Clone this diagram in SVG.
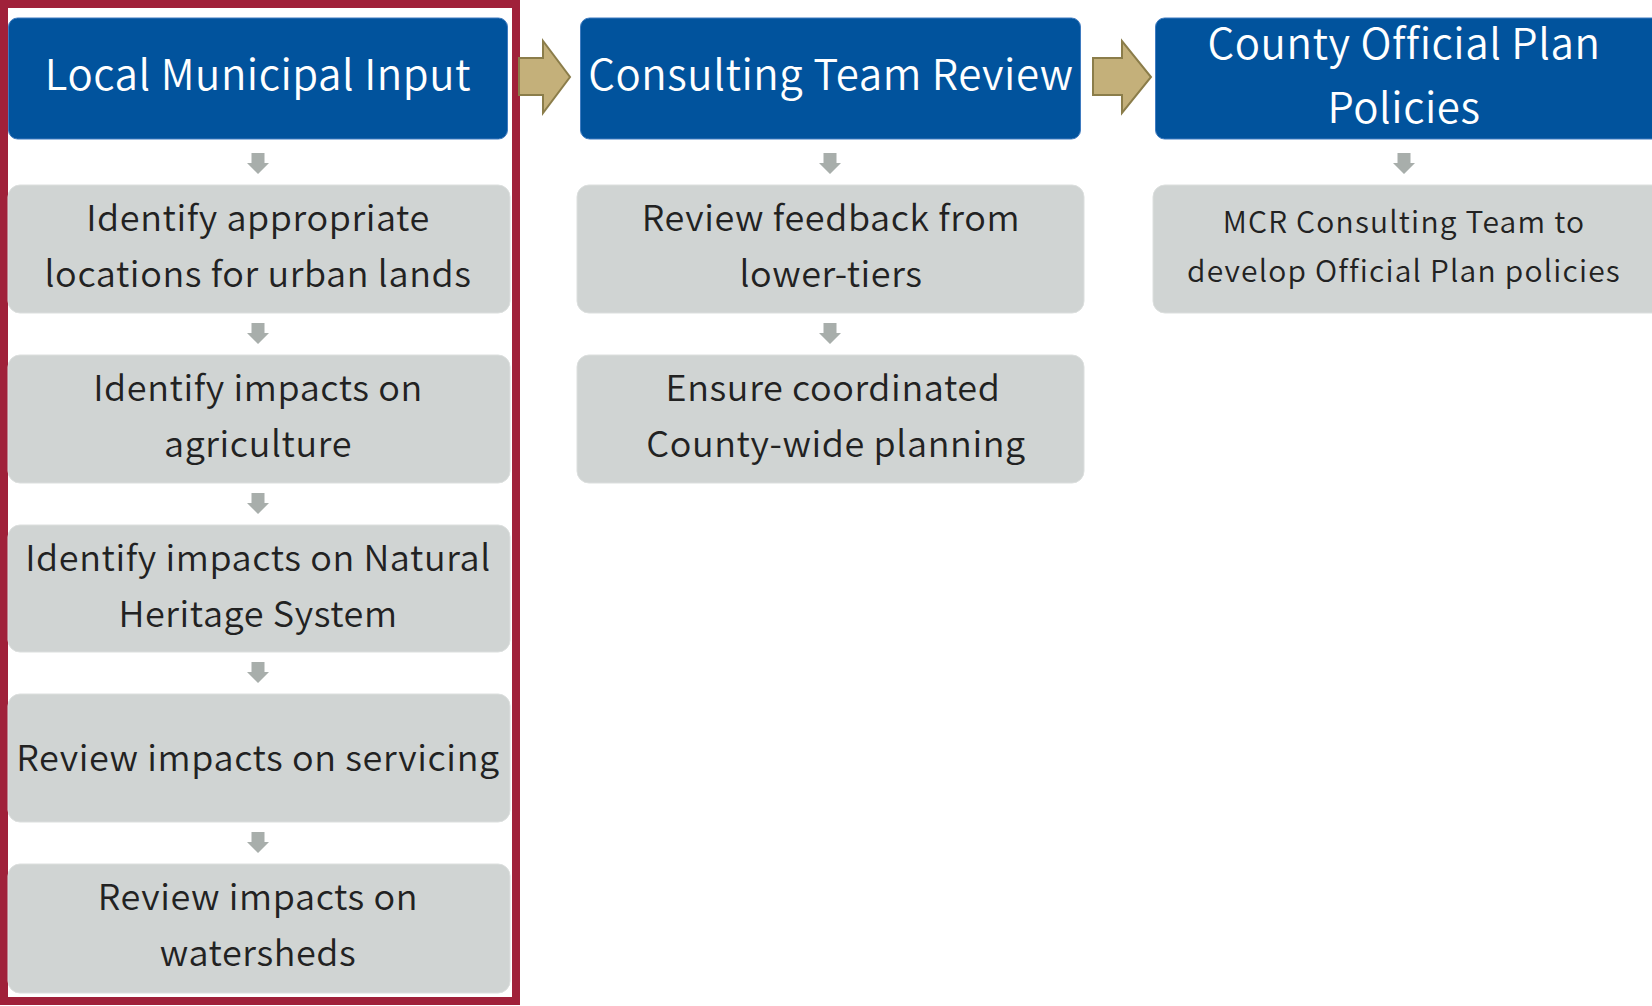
<svg xmlns="http://www.w3.org/2000/svg" width="1652" height="1006" viewBox="0 0 1652 1006">
<style>
.hdr{fill:#01539D;stroke:#3F7BC0;stroke-width:1}
.box{fill:#D0D4D3;stroke:#DCDFDE;stroke-width:1}
.ht{font-family:"Noto Sans CJK JP","Noto Sans",sans-serif;font-weight:350;font-size:42px;fill:#FFFFFF;text-anchor:middle;letter-spacing:0.55px}
.bt{font-family:"Noto Sans CJK JP","Noto Sans",sans-serif;font-weight:350;font-size:36px;fill:#222222;text-anchor:middle;letter-spacing:0.6px}
.st{font-family:"Noto Sans CJK JP","Noto Sans",sans-serif;font-weight:350;font-size:30px;fill:#222222;text-anchor:middle;letter-spacing:1.2px}
.da{fill:#A8AEAB}
.ga{fill:#C4B07A;stroke:#8B7D4A;stroke-width:2}
</style>
<defs>
<path id="dn" class="da" d="M-6.5,0 H6.5 V10 H11 L0,21 L-11,10 H-6.5 Z"/>
</defs>
<rect x="0" y="0" width="1652" height="1006" fill="#FFFFFF"/>
<rect id="frame" x="4" y="4" width="512" height="997" fill="none" stroke="#A0213A" stroke-width="8"/>
<g id="connectors">
<path class="ga" d="M519,58 H543 V41 L570,77 L543,113 V95 H519 Z"/>
<path class="ga" d="M1093,58 H1122 V41 L1151,77 L1122,113 V95 H1093 Z"/>
<use href="#dn" x="258" y="153"/>
<use href="#dn" x="258" y="323"/>
<use href="#dn" x="258" y="493"/>
<use href="#dn" x="258" y="662"/>
<use href="#dn" x="258" y="832"/>
<use href="#dn" x="830" y="153"/>
<use href="#dn" x="830" y="323"/>
<use href="#dn" x="1404" y="153"/>
</g>
<g id="h1"><rect class="hdr" x="8.5" y="18" width="499" height="121" rx="9"/><text class="ht" x="258" y="90">Local Municipal Input</text></g>
<g id="h2"><rect class="hdr" x="580.5" y="18" width="500" height="121" rx="9"/><text class="ht" x="831" y="90">Consulting Team Review</text></g>
<g id="h3"><rect class="hdr" x="1155.5" y="18" width="510" height="121" rx="9"/><text class="ht" x="1404" y="59">County Official Plan</text><text class="ht" x="1404" y="123">Policies</text></g>
<g id="c1r1"><rect class="box" x="8" y="185" width="502" height="128" rx="12"/><text class="bt" x="258" y="231">Identify appropriate</text><text class="bt" x="258" y="287">locations for urban lands</text></g>
<g id="c1r2"><rect class="box" x="8" y="355" width="502" height="128" rx="12"/><text class="bt" x="258" y="401">Identify impacts on</text><text class="bt" x="258" y="457">agriculture</text></g>
<g id="c1r3"><rect class="box" x="8" y="525" width="502" height="127" rx="12"/><text class="bt" x="258" y="571">Identify impacts on Natural</text><text class="bt" x="258" y="627">Heritage System</text></g>
<g id="c1r4"><rect class="box" x="8" y="694" width="502" height="128" rx="12"/><text class="bt" x="258" y="771">Review impacts on servicing</text></g>
<g id="c1r5"><rect class="box" x="8" y="864" width="502" height="129" rx="12"/><text class="bt" x="258" y="910">Review impacts on</text><text class="bt" x="258" y="966">watersheds</text></g>
<g id="c2r1"><rect class="box" x="577" y="185" width="507" height="128" rx="12"/><text class="bt" x="831" y="231">Review feedback from</text><text class="bt" x="831" y="287">lower-tiers</text></g>
<g id="c2r2"><rect class="box" x="577" y="355" width="507" height="128" rx="12"/><text class="bt" x="833" y="401">Ensure coordinated</text><text class="bt" x="836" y="457">County-wide planning</text></g>
<g id="c3r1"><rect class="box" x="1153" y="185" width="515" height="128" rx="12"/><text class="st" x="1404" y="233">MCR Consulting Team to</text><text class="st" x="1404" y="282">develop Official Plan policies</text></g>
</svg>
